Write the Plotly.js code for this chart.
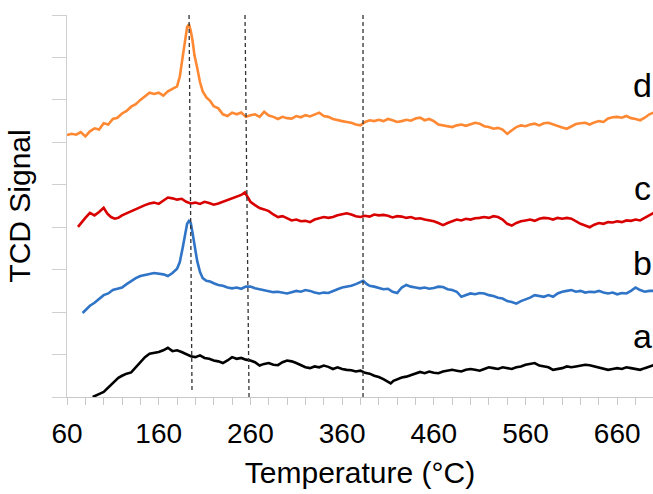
<!DOCTYPE html>
<html>
<head>
<meta charset="utf-8">
<script src="https://cdn.plot.ly/plotly-3.0.1.min.js"></script>
<style>
html,body{margin:0;padding:0;background:#fff;}
#chart{width:653px;height:494px;}
</style>
</head>
<body>
<div id="chart"></div>
<script>
// ---- data ----
const dT = [60,65,70,75,80,85,90,95,100,105,110,115,120,125,130,135,140,145,150,155,160,165,170,175,180,183,186,189,191,193,195,197,199,202,205,208,212,216,220,225,230,235,240,245,250,255,260,265,270,275,280,285,290,295,300,305,310,315,320,325,330,335,340,345,350,355,360,365,370,375,380,385,390,395,400,405,410,415,420,425,430,435,440,445,450,455,460,465,470,475,480,485,490,495,500,505,510,515,520,525,530,535,540,545,550,555,560,565,570,575,580,585,590,595,600,605,610,615,620,625,630,635,640,645,650,655,660,665,670,675,680,685,690,695,700];
const dY = [6.17,6.20,6.18,6.24,6.14,6.26,6.33,6.30,6.45,6.42,6.55,6.58,6.68,6.74,6.84,6.90,7.00,7.08,7.17,7.14,7.17,7.10,7.20,7.26,7.32,7.55,7.95,8.45,8.72,8.78,8.62,8.38,8.05,7.75,7.42,7.20,7.06,6.98,6.85,6.80,6.66,6.62,6.70,6.66,6.70,6.60,6.64,6.66,6.60,6.72,6.63,6.60,6.55,6.60,6.57,6.56,6.62,6.59,6.64,6.61,6.66,6.70,6.62,6.60,6.55,6.52,6.50,6.48,6.46,6.42,6.40,6.48,6.52,6.50,6.53,6.50,6.55,6.52,6.48,6.50,6.53,6.51,6.56,6.58,6.52,6.55,6.50,6.42,6.40,6.38,6.36,6.40,6.42,6.39,6.43,6.46,6.44,6.38,6.36,6.32,6.34,6.30,6.20,6.28,6.36,6.40,6.38,6.42,6.44,6.40,6.45,6.46,6.42,6.38,6.35,6.32,6.38,6.43,6.45,6.46,6.42,6.47,6.50,6.48,6.56,6.59,6.60,6.58,6.62,6.57,6.55,6.52,6.58,6.66,6.70];

const cT = [72,75,80,85,90,95,100,104,108,112,116,120,125,130,135,140,145,150,155,160,165,170,175,180,185,190,195,200,205,210,215,220,225,230,235,240,245,250,254,257,260,265,270,275,280,285,290,295,300,305,310,315,320,325,330,335,340,345,350,355,360,365,370,375,380,385,390,395,400,405,410,415,420,425,430,435,440,445,450,455,460,465,470,475,480,485,490,495,500,505,510,515,520,525,530,535,540,545,550,555,560,565,570,575,580,585,590,595,600,605,610,615,620,625,630,635,640,645,650,655,660,665,670,675,680,685,690,695,700];
const cY = [4.01,4.10,4.22,4.34,4.28,4.36,4.46,4.32,4.24,4.20,4.22,4.28,4.33,4.38,4.42,4.48,4.52,4.56,4.58,4.55,4.62,4.70,4.68,4.65,4.67,4.60,4.56,4.58,4.55,4.60,4.57,4.53,4.56,4.60,4.63,4.68,4.72,4.76,4.82,4.72,4.60,4.52,4.45,4.42,4.38,4.30,4.24,4.26,4.20,4.16,4.18,4.14,4.15,4.12,4.18,4.21,4.24,4.22,4.24,4.28,4.30,4.33,4.30,4.26,4.24,4.27,4.25,4.30,4.28,4.29,4.27,4.23,4.26,4.25,4.22,4.24,4.20,4.21,4.18,4.16,4.14,4.10,4.05,4.10,4.14,4.18,4.16,4.20,4.18,4.21,4.22,4.24,4.22,4.26,4.24,4.18,4.08,4.04,4.10,4.14,4.16,4.18,4.15,4.20,4.22,4.21,4.18,4.22,4.20,4.22,4.20,4.14,4.08,4.04,4.00,4.06,4.10,4.08,4.12,4.11,4.14,4.12,4.16,4.15,4.18,4.16,4.22,4.30,4.34];

const bT = [77,80,85,90,95,100,105,110,115,120,125,130,135,140,145,150,155,160,165,170,175,180,183,186,189,191,193,195,197,199,202,205,208,212,216,220,225,230,235,240,245,250,255,260,265,270,275,280,285,290,295,300,305,310,315,320,325,330,335,340,345,350,355,360,365,370,375,380,383,387,390,395,400,405,410,415,420,425,430,435,440,445,450,455,460,465,470,475,480,485,490,495,500,505,510,515,520,525,530,535,540,545,550,555,560,565,570,575,580,585,590,595,600,605,610,615,620,625,630,635,640,645,650,655,660,665,670,675,680,685,690,695,700];
const bY = [1.98,2.05,2.15,2.22,2.30,2.40,2.44,2.52,2.55,2.58,2.66,2.74,2.80,2.85,2.88,2.90,2.92,2.91,2.89,2.85,2.92,3.02,3.18,3.50,3.85,4.08,4.15,4.10,3.85,3.55,3.20,2.95,2.80,2.74,2.72,2.68,2.64,2.62,2.58,2.56,2.58,2.55,2.60,2.60,2.56,2.54,2.52,2.50,2.47,2.48,2.46,2.44,2.47,2.50,2.48,2.52,2.50,2.46,2.44,2.46,2.45,2.50,2.54,2.58,2.60,2.62,2.66,2.70,2.74,2.66,2.62,2.60,2.57,2.54,2.55,2.48,2.45,2.58,2.64,2.60,2.58,2.56,2.58,2.55,2.57,2.60,2.59,2.54,2.52,2.48,2.36,2.40,2.44,2.42,2.45,2.44,2.40,2.38,2.34,2.32,2.26,2.24,2.20,2.26,2.30,2.34,2.40,2.38,2.36,2.40,2.36,2.44,2.48,2.50,2.52,2.48,2.50,2.46,2.48,2.47,2.50,2.46,2.44,2.46,2.42,2.45,2.44,2.50,2.58,2.52,2.48,2.50,2.50];

const aT = [88,92,96,100,104,108,112,116,120,125,130,135,140,145,150,155,160,165,170,175,180,185,190,195,200,205,210,215,220,225,230,235,240,245,250,255,260,265,270,275,280,285,290,295,300,305,310,315,320,325,330,335,340,345,350,355,360,365,370,375,380,385,390,395,400,405,410,413,416,420,425,430,435,440,445,450,455,460,465,470,475,480,485,490,495,500,505,510,515,520,525,530,535,540,545,550,555,560,565,570,575,580,585,590,595,600,605,610,615,620,625,630,635,640,645,650,655,660,665,670,675,680,685,690,695,700];
const aY = [0.00,0.05,0.08,0.12,0.20,0.30,0.36,0.45,0.50,0.55,0.58,0.70,0.82,0.94,1.02,1.04,1.06,1.10,1.16,1.08,1.10,1.06,1.00,0.96,0.94,0.98,0.92,0.90,0.86,0.84,0.80,0.86,0.94,0.90,0.92,0.88,0.86,0.82,0.74,0.78,0.80,0.76,0.75,0.82,0.86,0.84,0.80,0.74,0.70,0.68,0.72,0.70,0.74,0.71,0.66,0.70,0.66,0.64,0.63,0.60,0.62,0.57,0.55,0.50,0.47,0.42,0.36,0.32,0.38,0.42,0.46,0.48,0.52,0.56,0.59,0.56,0.60,0.57,0.56,0.60,0.62,0.64,0.62,0.60,0.64,0.66,0.64,0.62,0.66,0.70,0.68,0.66,0.70,0.68,0.66,0.70,0.72,0.76,0.78,0.80,0.74,0.72,0.70,0.64,0.66,0.68,0.72,0.70,0.72,0.74,0.76,0.75,0.72,0.70,0.66,0.64,0.66,0.68,0.66,0.70,0.68,0.66,0.64,0.68,0.72,0.75];

const seriesNames = ['a','b','c','d'];
const xTickVals = [60,160,260,360,460,560,660];
const xTickText = ['60','160','260','360','460','560','660'];
const yTickVals = [0,1,2,3,4,5,6,7,8,9];
// dashed reference lines: [x at top, x at bottom, y bottom]
const peakLines = [[193.1,196.3,0.16],[254.1,258.5,0],[382.8,382.8,0]];
const labelY = [1.43, 3.15, 4.93, 7.36]; // a, b, c, d label positions

// ---- plot ----
const font = 'Arial, "Liberation Sans", sans-serif';
const mk = (x,y,color)=>({x:x,y:y,type:'scatter',mode:'lines',line:{color:color,width:2.6},hoverinfo:'skip',showlegend:false});
const traces = [
  mk(aT,aY,'#000000'),
  mk(bT,bY,'#2f74c6'),
  mk(cT,cY,'#d90000'),
  mk(dT,dY,'#ff8833')
];

const shapes = peakLines.map(p=>({type:'line',xref:'x',yref:'y',x0:p[0],y0:9,x1:p[1],y1:p[2],line:{color:'#333333',width:1.3,dash:'4px,3px'}}));

const annotations = seriesNames.map((n,i)=>({
  text:n,xref:'x',yref:'y',x:688,y:labelY[i],showarrow:false,xanchor:'center',yanchor:'middle',
  font:{family:font,size:34,color:'#000'}
}));

const layout = {
  width:653,height:494,
  margin:{l:67,r:0,t:15,b:97,pad:0},
  paper_bgcolor:'#ffffff',plot_bgcolor:'#ffffff',
  showlegend:false,
  xaxis:{
    range:[60,699],showgrid:false,zeroline:false,
    showline:true,linecolor:'#c8c8c8',linewidth:1,
    tickmode:'array',tickvals:xTickVals,ticktext:xTickText,
    ticks:'outside',ticklen:7,tickcolor:'#c8c8c8',tickwidth:1,
    ticklabelstandoff:4,
    minor:{dtick:20,tick0:60,ticks:'outside',ticklen:7,tickcolor:'#c8c8c8',tickwidth:1,showgrid:false},
    tickfont:{family:font,size:28,color:'#000'},
    title:{text:'Temperature (°C)',font:{family:font,size:30,color:'#000'},standoff:14},
    automargin:false
  },
  yaxis:{
    range:[0,9],showgrid:false,zeroline:false,
    showline:true,linecolor:'#d0d0d0',linewidth:1,
    tickmode:'array',tickvals:yTickVals,
    ticks:'outside',ticklen:14,tickcolor:'#d0d0d0',tickwidth:1,
    showticklabels:false,
    title:{text:'TCD Signal',font:{family:font,size:30,color:'#000'},standoff:12},
    automargin:false
  },
  shapes:shapes,
  annotations:annotations
};

Plotly.newPlot('chart',traces,layout,{staticPlot:true,displayModeBar:false});
</script>
</body>
</html>
